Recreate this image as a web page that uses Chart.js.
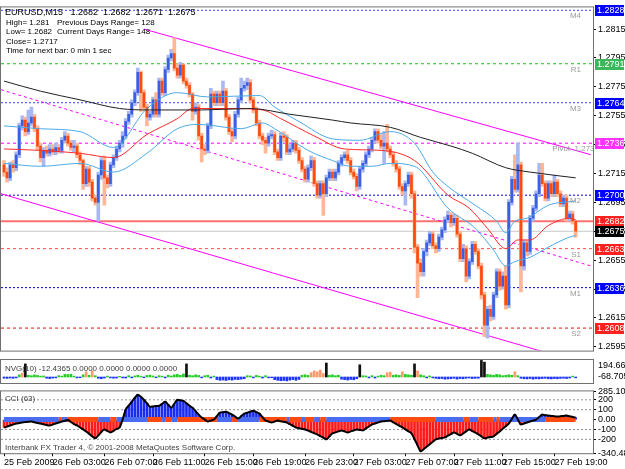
<!DOCTYPE html>
<html>
<head>
<meta charset="utf-8">
<script src="https://cdn.jsdelivr.net/npm/chart.js@4.4.1/dist/chart.umd.min.js"></script>
<style>
  body { margin: 0; background: #fff; width: 625px; height: 469px; overflow: hidden; position: relative; }
  canvas { position: absolute; left: 0; }
</style>
</head>
<body>
<canvas id="main" width="625" height="358" style="top:0"></canvas>
<canvas id="nvg" width="625" height="26" style="top:358px"></canvas>
<canvas id="cci" width="625" height="85" style="top:384px"></canvas>
<script>
// EURUSD M15, 25 Feb 23:00 .. 27 Feb 20:00 (bar index 0..188)
var opens = [1.2721,1.2716,1.2712,1.2721,1.2719,1.2728,1.2748,1.2752,1.2744,1.2750,
  1.2754,1.2746,1.2734,1.2726,1.2731,1.2729,1.2732,1.2730,1.2733,1.2731,
  1.2738,1.2741,1.2736,1.2733,1.2734,1.2728,1.2724,1.2708,1.2718,1.2709,
  1.2698,1.2695,1.2714,1.2724,1.2712,1.2708,1.2721,1.2726,1.2732,1.2736,
  1.2741,1.2751,1.2756,1.2764,1.2771,1.2785,1.2771,1.2761,1.2754,1.2756,
  1.2766,1.2756,1.2779,1.2771,1.2787,1.2795,1.2798,1.2788,1.2783,1.2790,
  1.2779,1.2776,1.2770,1.2758,1.2761,1.2741,1.2732,1.2731,1.2748,1.2770,
  1.2764,1.2770,1.2764,1.2772,1.2754,1.2744,1.2741,1.2756,1.2766,1.2774,
  1.2776,1.2778,1.2766,1.2759,1.2750,1.2741,1.2738,1.2736,1.2741,1.2742,
  1.2730,1.2726,1.2741,1.2740,1.2730,1.2732,1.2736,1.2731,1.2724,1.2718,
  1.2711,1.2719,1.2724,1.2708,1.2700,1.2708,1.2701,1.2712,1.2716,1.2712,
  1.2716,1.2722,1.2726,1.2728,1.2724,1.2716,1.2713,1.2706,1.2718,1.2722,
  1.2728,1.2732,1.2738,1.2744,1.2738,1.2734,1.2736,1.2732,1.2728,1.2722,
  1.2718,1.2706,1.2703,1.2708,1.2714,1.2701,1.2664,1.2653,1.2647,1.2661,
  1.2667,1.2673,1.2665,1.2663,1.2671,1.2676,1.2683,1.2686,1.2681,1.2684,
  1.2673,1.2656,1.2663,1.2644,1.2654,1.2666,1.2661,1.2651,1.2631,1.2610,
  1.2621,1.2616,1.2631,1.2647,1.2637,1.2644,1.2624,1.2695,1.2711,1.2704,
  1.2721,1.2651,1.2667,1.2661,1.2684,1.2691,1.2701,1.2714,1.2708,1.2698,
  1.2708,1.2701,1.2709,1.2701,1.2694,1.2698,1.2684,1.2687,1.2682];
var highs = [1.2724,1.2719,1.2723,1.2724,1.2730,1.2750,1.2755,1.2754,1.2759,1.2761,
  1.2756,1.2748,1.2736,1.2733,1.2734,1.2735,1.2735,1.2736,1.2735,1.2740,
  1.2744,1.2743,1.2738,1.2738,1.2736,1.2730,1.2725,1.2720,1.2720,1.2711,
  1.2700,1.2716,1.2726,1.2727,1.2714,1.2723,1.2728,1.2734,1.2738,1.2744,
  1.2753,1.2758,1.2766,1.2773,1.2788,1.2786,1.2773,1.2763,1.2758,1.2768,
  1.2771,1.2781,1.2781,1.2789,1.2797,1.2801,1.2809,1.2791,1.2792,1.2791,
  1.2781,1.2778,1.2771,1.2764,1.2763,1.2743,1.2735,1.2750,1.2774,1.2772,
  1.2772,1.2772,1.2779,1.2774,1.2756,1.2746,1.2758,1.2768,1.2781,1.2779,
  1.2781,1.2780,1.2768,1.2761,1.2752,1.2743,1.2740,1.2743,1.2745,1.2744,
  1.2732,1.2743,1.2744,1.2742,1.2735,1.2738,1.2738,1.2733,1.2726,1.2720,
  1.2721,1.2727,1.2726,1.2710,1.2710,1.2710,1.2714,1.2718,1.2718,1.2718,
  1.2724,1.2728,1.2730,1.2731,1.2726,1.2718,1.2715,1.2720,1.2724,1.2730,
  1.2734,1.2740,1.2746,1.2746,1.2742,1.2744,1.2749,1.2734,1.2730,1.2724,
  1.2720,1.2708,1.2710,1.2716,1.2716,1.2703,1.2666,1.2656,1.2663,1.2669,
  1.2675,1.2675,1.2667,1.2673,1.2678,1.2685,1.2689,1.2688,1.2687,1.2686,
  1.2675,1.2666,1.2665,1.2656,1.2668,1.2668,1.2663,1.2653,1.2633,1.2623,
  1.2624,1.2633,1.2649,1.2649,1.2647,1.2651,1.2697,1.2713,1.2728,1.2736,
  1.2723,1.2669,1.2669,1.2686,1.2693,1.2703,1.2722,1.2722,1.2710,1.2710,
  1.2710,1.2714,1.2711,1.2703,1.2700,1.2700,1.2689,1.2689,1.2682];
var lows = [1.2713,1.2709,1.2710,1.2716,1.2717,1.2726,1.2745,1.2741,1.2742,1.2748,
  1.2744,1.2731,1.2723,1.2720,1.2727,1.2727,1.2728,1.2728,1.2729,1.2729,
  1.2736,1.2734,1.2731,1.2730,1.2726,1.2721,1.2704,1.2706,1.2706,1.2696,
  1.2693,1.2682,1.2711,1.2693,1.2705,1.2706,1.2719,1.2724,1.2730,1.2733,
  1.2739,1.2749,1.2754,1.2762,1.2769,1.2758,1.2759,1.2748,1.2752,1.2754,
  1.2754,1.2754,1.2769,1.2769,1.2785,1.2793,1.2786,1.2781,1.2781,1.2777,
  1.2774,1.2768,1.2752,1.2756,1.2738,1.2723,1.2728,1.2729,1.2746,1.2762,
  1.2762,1.2762,1.2762,1.2752,1.2742,1.2737,1.2739,1.2754,1.2764,1.2772,
  1.2773,1.2764,1.2757,1.2748,1.2739,1.2735,1.2729,1.2734,1.2739,1.2728,
  1.2724,1.2724,1.2737,1.2728,1.2728,1.2730,1.2729,1.2722,1.2716,1.2709,
  1.2709,1.2717,1.2706,1.2698,1.2698,1.2686,1.2699,1.2710,1.2710,1.2710,
  1.2714,1.2720,1.2724,1.2722,1.2714,1.2711,1.2703,1.2704,1.2716,1.2720,
  1.2726,1.2730,1.2736,1.2736,1.2732,1.2722,1.2730,1.2726,1.2720,1.2716,
  1.2704,1.2700,1.2693,1.2706,1.2698,1.2660,1.2629,1.2644,1.2644,1.2658,
  1.2665,1.2663,1.2660,1.2661,1.2669,1.2674,1.2681,1.2678,1.2679,1.2671,
  1.2654,1.2654,1.2640,1.2642,1.2652,1.2659,1.2649,1.2628,1.2602,1.2601,
  1.2613,1.2614,1.2629,1.2634,1.2635,1.2621,1.2622,1.2693,1.2702,1.2702,
  1.2633,1.2648,1.2658,1.2659,1.2682,1.2689,1.2699,1.2706,1.2696,1.2696,
  1.2699,1.2699,1.2699,1.2692,1.2692,1.2682,1.2682,1.2680,1.2671];
var closes = [1.2716,1.2712,1.2721,1.2719,1.2728,1.2748,1.2752,1.2744,1.2750,1.2754,
  1.2746,1.2734,1.2726,1.2731,1.2729,1.2732,1.2730,1.2733,1.2731,1.2738,
  1.2741,1.2736,1.2733,1.2734,1.2728,1.2724,1.2708,1.2718,1.2709,1.2698,
  1.2695,1.2714,1.2724,1.2712,1.2708,1.2721,1.2726,1.2732,1.2736,1.2741,
  1.2751,1.2756,1.2764,1.2771,1.2785,1.2771,1.2761,1.2754,1.2756,1.2766,
  1.2756,1.2779,1.2771,1.2787,1.2795,1.2798,1.2788,1.2783,1.2790,1.2779,
  1.2776,1.2770,1.2758,1.2761,1.2741,1.2732,1.2731,1.2748,1.2770,1.2764,
  1.2770,1.2764,1.2772,1.2754,1.2744,1.2741,1.2756,1.2766,1.2774,1.2776,
  1.2778,1.2766,1.2759,1.2750,1.2741,1.2738,1.2736,1.2741,1.2742,1.2730,
  1.2726,1.2741,1.2740,1.2730,1.2732,1.2736,1.2731,1.2724,1.2718,1.2711,
  1.2719,1.2724,1.2708,1.2700,1.2708,1.2701,1.2712,1.2716,1.2712,1.2716,
  1.2722,1.2726,1.2728,1.2724,1.2716,1.2713,1.2706,1.2718,1.2722,1.2728,
  1.2732,1.2738,1.2744,1.2738,1.2734,1.2736,1.2732,1.2728,1.2722,1.2718,
  1.2706,1.2703,1.2708,1.2714,1.2701,1.2664,1.2653,1.2647,1.2661,1.2667,
  1.2673,1.2665,1.2663,1.2671,1.2676,1.2683,1.2686,1.2681,1.2684,1.2673,
  1.2656,1.2663,1.2644,1.2654,1.2666,1.2661,1.2651,1.2631,1.2610,1.2621,
  1.2616,1.2631,1.2647,1.2637,1.2644,1.2624,1.2695,1.2711,1.2704,1.2721,
  1.2651,1.2667,1.2661,1.2684,1.2691,1.2701,1.2714,1.2708,1.2698,1.2708,
  1.2701,1.2709,1.2701,1.2694,1.2698,1.2684,1.2687,1.2682,1.2675];

// moving averages / bands, sampled at bar indexes
var slowIdx = [0,12,25,38,48,65,81,94,108,114,127,137,147,154,165,173,188];
var slowVal = [1.2779,1.2772,1.2766,1.2760,1.2759,1.2759,1.2760,1.2756,1.2752,1.2750,1.2747,1.2740,1.2734,1.2729,1.2719,1.2716,1.2712];
var midIdx = [0,12,25,36,47,57,62,75,85,91,102,112,124,135,146,153,159,165,169,173,179,186,188];
var midVal = [1.2732,1.2731,1.2729,1.2726,1.2742,1.2753,1.2760,1.2760,1.2759,1.2753,1.2741,1.2732,1.2731,1.2724,1.2700,1.2691,1.2677,1.2663,1.2669,1.2669,1.2679,1.2684,1.2683];
var upIdx = [0,12,25,36,47,57,67,84,89,97,108,117,127,135,141,146,155,162,165,168,172,179,188];
var upVal = [1.2748,1.2746,1.2744,1.2733,1.2760,1.2771,1.2768,1.2769,1.2761,1.2751,1.2739,1.2738,1.2744,1.2736,1.2716,1.2706,1.2693,1.2682,1.2674,1.2682,1.2684,1.2693,1.2696];
var dnIdx = [0,12,25,36,47,57,64,78,85,89,100,108,114,121,127,135,146,155,161,165,168,173,179,186,188];
var dnVal = [1.2722,1.2720,1.2722,1.2716,1.2729,1.2746,1.2749,1.2746,1.2750,1.2746,1.2731,1.2724,1.2720,1.2720,1.2722,1.2720,1.2691,1.2677,1.2662,1.2651,1.2654,1.2657,1.2664,1.2671,1.2672];

// channel lines [startIdx, startPrice, endIdx, endPrice]
var chanTop = [46, 1.2815, 193, 1.2728];
var chanMid = [-1, 1.2773, 193, 1.2651];
var chanLow = [-1, 1.2701, 193, 1.2582];

// pivot levels
var levelNames = ['M4', 'R1', 'M3', 'Pivot  1.2736', 'M2', '', '', 'S1', 'M1', 'S2'];
var levelPrices = [1.2828, 1.2791, 1.2764, 1.2736, 1.2700, 1.2682, 1.2675, 1.2663, 1.2636, 1.2608];
var priceTicks = [1.2815, 1.2795, 1.2775, 1.2755, 1.2735, 1.2715, 1.2695, 1.2675, 1.2655, 1.2635, 1.2615, 1.2595];

var titleText = 'EURUSD,M15   1.2682  1.2682  1.2671  1.2675';
var infoLines = ['', 'High= 1.281', 'Low= 1.2682', 'Close= 1.2717', 'Time for next bar: 0 min 1 sec'];
var infoRight = ['', 'Previous Days Range= 128', 'Current Days Range= 148', '', ''];

var nvg = [-14,-16,-12,-15,-10,25,45,150,20,15,
  25,18,10,12,-14,-18,-12,-10,15,10,
  30,28,32,10,-10,-8,25,60,20,70,
  15,-15,-20,-12,10,-10,-14,-12,8,-10,
  -12,15,-10,12,20,10,-8,18,22,12,
  -8,15,10,-10,20,12,25,30,20,35,
  150,20,15,25,18,-10,15,20,-12,10,
  -30,-38,-35,-40,-32,-36,-28,-30,-25,-20,
  15,12,-10,18,10,-12,15,-10,-8,-30,
  -38,-42,-40,-45,-36,-30,-38,-28,20,25,
  18,50,70,60,80,40,160,20,25,15,
  20,-25,-30,-35,-28,-32,-20,140,15,12,
  -10,15,-12,10,20,15,50,55,20,25,
  18,60,30,25,20,150,70,25,15,-10,
  12,-10,-15,-20,-18,-25,-22,-20,-15,-24,
  -18,-20,-15,-12,-18,-15,-14,190,170,30,
  25,20,30,25,15,20,25,20,60,15,
  -15,-20,-22,-18,-25,-20,-22,-18,-15,-20,
  -22,-18,-20,-16,-14,-18,-12,10,-10];
var nvgMax = 194.6653, nvgMin = -68.7057;

var cci = [-80,-70,-60,-50,-40,-35,-30,-25,-22,-20,
  -28,-35,-40,-48,-55,-60,-50,-40,-30,-20,
  -12,-5,-25,-45,-60,-80,-100,-120,-145,-170,
  -190,-160,-125,-100,-115,-130,-115,-95,-80,0,
  100,140,180,220,250,230,200,165,130,133,
  137,140,160,180,150,120,160,200,195,190,
  165,140,120,85,50,20,0,-20,-10,0,
  35,70,75,80,65,50,30,10,35,60,
  70,80,90,75,60,25,-10,-20,-30,-20,
  -10,-17,-23,-30,-47,-63,-80,-87,-93,-100,
  -112,-125,-138,-150,-167,-183,-200,-170,-140,-130,
  -120,-110,-120,-130,-120,-110,-100,-105,-110,-90,
  -70,-50,-40,-30,-20,-17,-13,-10,-28,-45,
  -63,-80,-100,-120,-140,-200,-260,-320,-300,-275,
  -250,-225,-200,-193,-187,-180,-163,-147,-130,-145,
  -160,-140,-120,-100,-117,-133,-150,-170,-190,-183,
  -177,-170,-145,-120,-93,-67,-40,5,50,0,
  -50,-40,-30,-20,-10,0,25,50,45,40,
  37,33,30,33,37,40,33,27,20];
var cciMax = 285.1003, cciMin = -340.489;
var cciLevels = [200, 100, -100, -200];
var cciTicks = [285.1003, 200, 100, 0, -100, -200, -340.489];
// trend segments for the zero band: [from, to, +1 blue / -1 red]
var cciTrend = [[0,17,1],[18,18,-1],[19,20,1],[21,30,-1],[31,34,1],[35,36,-1],[37,46,1],[47,51,-1],
  [52,52,1],[53,54,-1],[55,56,1],[57,69,-1],[70,74,1],[75,76,-1],[77,83,1],[84,92,-1],[93,93,1],
  [94,97,-1],[98,98,1],[99,101,-1],[102,103,1],[104,105,-1],[106,126,1],[127,141,-1],[142,150,1],
  [151,152,-1],[153,155,1],[156,160,-1],[161,161,1],[162,162,-1],[163,177,1],[178,188,-1]];

var timeIdx = [0,16,33,49,66,82,99,115,132,148,164,181];
var timeLabels = ['25 Feb 2009','26 Feb 03:00','26 Feb 07:00','26 Feb 11:00','26 Feb 15:00','26 Feb 19:00',
  '26 Feb 23:00','27 Feb 03:00','27 Feb 07:00','27 Feb 11:00','27 Feb 15:00','27 Feb 19:00'];

Chart.defaults.font.family = '"Liberation Sans", Arial, sans-serif';
Chart.defaults.font.size = 9;
Chart.defaults.color = '#000';
Chart.defaults.animation = false;
Chart.defaults.plugins.legend.display = false;
Chart.defaults.plugins.tooltip.enabled = false;

var XMIN = -1, XMAX = 193.7, AXISW = 32;
var SMALL = '8px "Liberation Sans", Arial, sans-serif';
var NORMAL = '9px "Liberation Sans", Arial, sans-serif';

function pts(ix, vals) {
  return ix.map(function(x, i) { return {x: x, y: vals[i]}; });
}
function seg(a) { return [{x: a[0], y: a[1]}, {x: a[2], y: a[3]}]; }
function hline(p) { return [{x: XMIN, y: p}, {x: XMAX, y: p}]; }
function xScale(show) {
  return {type: 'linear', min: XMIN, max: XMAX, offset: false, display: show, grid: {offset: false}};
}

var frame = {
  id: 'frame',
  afterDraw: function(chart) {
    var a = chart.chartArea, ctx = chart.ctx;
    ctx.save();
    ctx.strokeStyle = '#707070';
    ctx.lineWidth = 1;
    ctx.strokeRect(a.left - 0.5, a.top - 0.5, a.right - a.left + 1, a.bottom - a.top + 1);
    ctx.restore();
  }
};

var levelStyle = [
  {c: '#4040ff', d: [2, 2], w: 1},
  {c: '#22bb22', d: [3, 3], w: 1},
  {c: '#4040ff', d: [2, 2], w: 1},
  {c: '#ff00ff', d: [3, 3], w: 1},
  {c: '#0000dd', d: [2, 2], w: 1},
  {c: '#ff7070', d: [], w: 2},
  {c: '#c8c8c8', d: [], w: 1},
  {c: '#ff5050', d: [3, 3], w: 1},
  {c: '#0000dd', d: [2, 2], w: 1},
  {c: '#dd1010', d: [3, 3], w: 1}
];
var boxColors = ['#0000ff', '#3cb85c', '#0000ff', '#ff33ff', '#0000ff', '#ff2020', '#000000', '#ff2020', '#0000ff', '#ff2020'];

var mainDecor = {
  id: 'mainDecor',
  afterDatasetsDraw: function(chart) {
    var ctx = chart.ctx, a = chart.chartArea, y = chart.scales.y;
    ctx.save();
    ctx.beginPath();
    ctx.rect(a.left, a.top, a.right - a.left, a.bottom - a.top);
    ctx.clip();
    ctx.font = SMALL;
    ctx.fillStyle = '#9a9a9a';
    ctx.textBaseline = 'top';
    ctx.textAlign = 'right';
    levelNames.forEach(function(n, i) {
      if (!n) return;
      var right = n.length > 3 ? a.right + 6 : a.right - 12;
      ctx.fillText(n, right, y.getPixelForValue(levelPrices[i]) + 2);
    });
    ctx.fillStyle = '#000';
    ctx.textAlign = 'left';
    ctx.font = NORMAL;
    ctx.fillText(titleText, 5, a.top + 1);
    ctx.font = SMALL;
    infoLines.forEach(function(t, i) { if (t) ctx.fillText(t, 6, a.top + 2 + i * 9.3); });
    infoRight.forEach(function(t, i) { if (t) ctx.fillText(t, 57, a.top + 2 + i * 9.3); });
    ctx.restore();
  },
  afterDraw: function(chart) {
    var ctx = chart.ctx, a = chart.chartArea, y = chart.scales.y;
    ctx.save();
    ctx.font = NORMAL;
    ctx.textBaseline = 'middle';
    ctx.textAlign = 'left';
    levelPrices.forEach(function(p, i) {
      var py = Math.round(y.getPixelForValue(p));
      ctx.fillStyle = boxColors[i];
      ctx.fillRect(a.right + 2, py - 5, 29, 11);
      ctx.fillStyle = '#fff';
      ctx.fillText(p.toFixed(4), a.right + 4, py + 0.5);
    });
    ctx.restore();
  }
};

var candleUp = closes.map(function(c, i) { return c >= opens[i]; });

new Chart(document.getElementById('main'), {
  type: 'bar',
  data: {
    datasets: [
      {type: 'bar', data: closes.map(function(c, i) { return {x: i, y: [opens[i], c]}; }),
        backgroundColor: candleUp.map(function(u) { return u ? '#3a5fe0' : '#ff4a10'; }),
        barThickness: 2, minBarLength: 1, grouped: false, order: 4},
      {type: 'bar', data: highs.map(function(h, i) { return {x: i, y: [lows[i], h]}; }),
        backgroundColor: candleUp.map(function(u) { return u ? '#a8b8f2' : '#ffb796'; }),
        barThickness: 3, grouped: false, order: 5},
      {type: 'line', data: pts(slowIdx, slowVal), borderColor: '#202020', borderWidth: 1, cubicInterpolationMode: 'monotone', order: 1},
      {type: 'line', data: pts(midIdx, midVal), borderColor: '#ff2a2a', borderWidth: 1, cubicInterpolationMode: 'monotone', order: 1},
      {type: 'line', data: pts(upIdx, upVal), borderColor: '#4aaae8', borderWidth: 1, cubicInterpolationMode: 'monotone', order: 1},
      {type: 'line', data: pts(dnIdx, dnVal), borderColor: '#4aaae8', borderWidth: 1, cubicInterpolationMode: 'monotone', order: 1},
      {type: 'line', data: seg(chanTop), borderColor: '#ff00ff', borderWidth: 1, order: 8},
      {type: 'line', data: seg(chanMid), borderColor: '#ff00ff', borderWidth: 1, borderDash: [3, 3], order: 8},
      {type: 'line', data: seg(chanLow), borderColor: '#ff00ff', borderWidth: 1, order: 8}
    ].concat(levelPrices.map(function(p, i) {
      return {type: 'line', data: hline(p), borderColor: levelStyle[i].c, borderWidth: levelStyle[i].w,
        borderDash: levelStyle[i].d, order: 10};
    }))
  },
  options: {
    responsive: false,
    layout: {padding: {left: 1, top: 2, right: 0, bottom: 1}},
    elements: {point: {radius: 0}, line: {fill: false}},
    scales: {
      x: xScale(false),
      y: {
        position: 'right', min: 1.25924, max: 1.2830,
        afterBuildTicks: function(s) { s.ticks = priceTicks.map(function(v) { return {value: v}; }); },
        afterFit: function(s) { s.width = AXISW; },
        ticks: {callback: function(v) { return v.toFixed(4); }, padding: 2, autoSkip: false},
        grid: {drawOnChartArea: false, tickLength: 3, color: '#000'},
        border: {color: '#707070'}
      }
    }
  },
  plugins: [frame, mainDecor]
});

new Chart(document.getElementById('nvg'), {
  type: 'bar',
  data: {
    datasets: [{
      data: nvg.map(function(v, i) { return {x: i, y: v}; }),
      backgroundColor: nvg.map(function(v) { return v < 0 ? '#1c34ff' : v < 40 ? '#22cc22' : v < 120 ? '#ff9a6a' : '#101010'; }),
      barThickness: 2
    }]
  },
  options: {
    responsive: false,
    layout: {padding: {left: 1, top: 2, right: 0, bottom: 1}},
    scales: {
      x: xScale(false),
      y: {position: 'right', min: nvgMin, max: nvgMax, afterFit: function(s) { s.width = AXISW; },
        ticks: {display: false}, grid: {display: false}, border: {color: '#707070'}}
    }
  },
  plugins: [frame, {
    id: 'nvgText',
    afterDraw: function(chart) {
      var ctx = chart.ctx, a = chart.chartArea;
      ctx.save();
      ctx.font = SMALL;
      ctx.fillStyle = '#404040';
      ctx.textBaseline = 'middle';
      ctx.fillText('NVG(10) -12.4365 0.0000 0.0000 0.0000 0.0000', 5, a.top + 9);
      ctx.fillStyle = '#000';
      ctx.font = NORMAL;
      ctx.fillText(nvgMax.toFixed(4), a.right + 5, a.top + 6);
      ctx.fillText(nvgMin.toFixed(4), a.right + 5, a.bottom - 6);
      ctx.restore();
    }
  }]
});

var trendArr = [];
cciTrend.forEach(function(s) { for (var i = s[0]; i <= s[1]; i++) trendArr[i] = s[2]; });

var cciX = xScale(true);
cciX.afterBuildTicks = function(s) { s.ticks = timeIdx.map(function(v) { return {value: v}; }); };
cciX.ticks = {callback: function(v, i) { return timeLabels[i]; }, align: 'start', maxRotation: 0, autoSkip: false, padding: 1};
cciX.grid = {offset: false, drawOnChartArea: false, tickLength: 3, color: '#000'};
cciX.border = {display: false};

new Chart(document.getElementById('cci'), {
  type: 'bar',
  data: {
    datasets: [
      {type: 'line', data: cci.map(function(v, i) { return {x: i, y: v}; }), borderColor: '#000', borderWidth: 2,
        cubicInterpolationMode: 'monotone', order: 1},
      {type: 'line', data: cci.map(function(v, i) { return {x: i, y: 0}; }), borderWidth: 5,
        segment: {borderColor: function(c) { return trendArr[c.p0DataIndex] > 0 ? '#4a6cf0' : '#ff4a10'; }}, order: 2},
      {type: 'bar', data: cci.map(function(v, i) { return {x: i, y: v}; }),
        backgroundColor: cci.map(function(v) { return v >= 0 ? '#1a2cf0' : '#ff1a1a'; }), barThickness: 2, order: 3}
    ].concat(cciLevels.map(function(l) {
      return {type: 'line', data: hline(l), borderColor: '#909090', borderWidth: 1, borderDash: [2, 2], order: 4};
    }))
  },
  options: {
    responsive: false,
    layout: {padding: {left: 1, top: 2, right: 0, bottom: 0}},
    elements: {point: {radius: 0}},
    scales: {
      x: cciX,
      y: {
        position: 'right', min: cciMin, max: cciMax,
        afterBuildTicks: function(s) { s.ticks = cciTicks.map(function(v) { return {value: v}; }); },
        afterFit: function(s) { s.width = AXISW; },
        ticks: {callback: function(v) { return v === 0 ? '0.00' : String(v); }, padding: 2, autoSkip: false},
        grid: {drawOnChartArea: false, tickLength: 3, color: '#000'},
        border: {color: '#707070'}
      }
    }
  },
  plugins: [frame, {
    id: 'cciText',
    afterDraw: function(chart) {
      var ctx = chart.ctx, a = chart.chartArea;
      ctx.save();
      ctx.font = SMALL;
      ctx.fillStyle = '#404040';
      ctx.textBaseline = 'top';
      ctx.fillText('CCI (63)', 5, a.top + 3);
      ctx.textBaseline = 'bottom';
      ctx.fillText('Interbank FX Trader 4, \u00a9 2001-2008 MetaQuotes Software Corp.', 5, a.bottom - 1);
      ctx.restore();
    }
  }]
});
</script>
</body>
</html>
